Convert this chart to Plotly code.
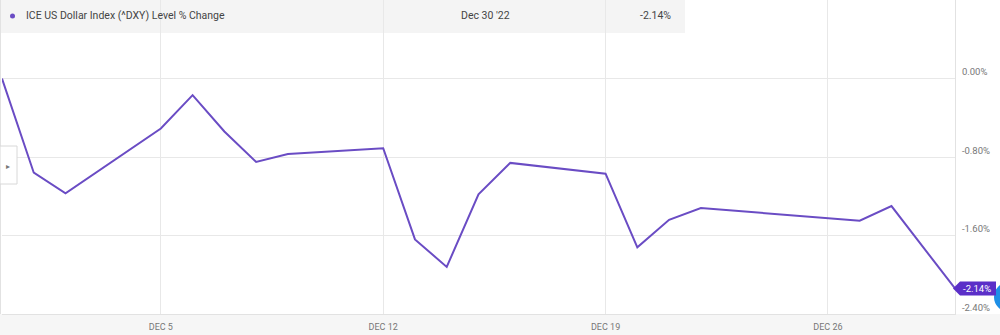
import plotly.graph_objects as go

# ---- data ----
dates = ["2022-11-30", "2022-12-01", "2022-12-02", "2022-12-05", "2022-12-06",
         "2022-12-07", "2022-12-08", "2022-12-09", "2022-12-12", "2022-12-13",
         "2022-12-14", "2022-12-15", "2022-12-16", "2022-12-19", "2022-12-20",
         "2022-12-21", "2022-12-22", "2022-12-27", "2022-12-28", "2022-12-30"]
values = [0.00, -0.96, -1.17, -0.51, -0.17,
          -0.54, -0.85, -0.77, -0.71, -1.64,
          -1.92, -1.18, -0.86, -0.97, -1.72,
          -1.44, -1.32, -1.45, -1.30, -2.14]
series_name = "ICE US Dollar Index (^DXY) Level % Change"
header_date = "Dec 30 '22"
x_range = ["2022-11-30", "2022-12-30"]
y_range = [-2.4, 0.8]
x_tick_vals = ["2022-12-05", "2022-12-12", "2022-12-19", "2022-12-26"]
x_tick_text = ["DEC 5", "DEC 12", "DEC 19", "DEC 26"]
y_tick_vals = [0.0, -0.8, -1.6, -2.4]
y_tick_text = ["0.00%", "-0.80%", "-1.60%", "-2.40%"]

# ---- layout geometry (pixels) ----
W, H = 1000, 335
ML, MR, MT, MB = 2, 45, 0, 21
PW, PH = W - ML - MR, H - MT - MB


def px(xp):
    return (xp - ML) / PW


def py(yp):
    return (H - MB - yp) / PH


LINE = "#6a4cc4"
PILL = "#5b2fc8"
FONT = "Roboto"

fig = go.Figure()
fig.add_trace(go.Scatter(
    x=dates, y=values, mode="lines",
    line=dict(color=LINE, width=2),
    hoverinfo="skip", showlegend=False,
))

last_val = values[-1]
last_txt = f"{last_val:.2f}%"
# position of the last value in paper coordinates (last date is the range end)
last_py = (last_val - y_range[0]) / (y_range[1] - y_range[0])

shapes = [
    # header box
    dict(type="rect", xref="paper", yref="paper", layer="below",
         x0=px(0), x1=px(685), y0=py(33), y1=py(0),
         fillcolor="#f4f4f4", line=dict(width=0)),
    # bottom strip
    dict(type="rect", xref="paper", yref="paper", layer="below",
         x0=px(0), x1=px(1000), y0=py(335), y1=py(314),
         fillcolor="#f6f6f6", line=dict(width=0)),
    # left border
    dict(type="line", xref="paper", yref="paper",
         x0=px(0.5), x1=px(0.5), y0=0, y1=1,
         line=dict(color="#e2e2e2", width=1)),
    # legend dot
    dict(type="circle", xref="paper", yref="paper",
         x0=px(10), x1=px(15), y0=py(18.5), y1=py(13.5),
         fillcolor=LINE, line=dict(width=0)),
    # side toggle button
    dict(type="rect", xref="paper", yref="paper",
         x0=px(0), x1=px(17), y0=py(184), y1=py(146),
         fillcolor="white", line=dict(color="#d8d8d8", width=1)),
    # blue widget at right edge
    dict(type="circle", xref="paper", yref="paper",
         x0=px(994), x1=px(1024), y0=py(312), y1=py(282),
         fillcolor="#1e8fe6", line=dict(width=0)),
    # end-value pill
    dict(type="path", xref="paper", yref="paper",
         xsizemode="pixel", ysizemode="pixel",
         xanchor=1.0, yanchor=last_py,
         path="M -2,0 L 5,7 L 41,7 L 41,-7 L 5,-7 Z",
         fillcolor=PILL, line=dict(width=0)),
]

annotations = [
    dict(xref="paper", yref="paper", x=px(24), y=py(16), xanchor="left",
         yanchor="middle", text=series_name, showarrow=False,
         font=dict(family=FONT, size=10.5, color="#444")),
    dict(xref="paper", yref="paper", x=px(485), y=py(16), xanchor="center",
         yanchor="middle", text=header_date, showarrow=False,
         font=dict(family=FONT, size=10.5, color="#444")),
    dict(xref="paper", yref="paper", x=px(673), y=py(16), xanchor="right",
         yanchor="middle", text=last_txt, showarrow=False,
         font=dict(family=FONT, size=10.5, color="#444")),
    dict(xref="paper", yref="paper", x=px(8), y=py(166), xanchor="center",
         yanchor="middle", text="▸", showarrow=False,
         font=dict(family="DejaVu Sans", size=8, color="#777")),
    dict(xref="paper", yref="paper", x=1.0, y=last_py, xanchor="center",
         yanchor="middle", xshift=22, text=last_txt, showarrow=False,
         font=dict(family=FONT, size=9.5, color="white")),
]

fig.update_layout(
    width=W, height=H,
    margin=dict(l=ML, r=MR, t=MT, b=MB, pad=0),
    paper_bgcolor="white",
    plot_bgcolor="rgba(0,0,0,0)",
    font=dict(family=FONT, size=9, color="#777"),
    shapes=shapes,
    annotations=annotations,
    xaxis=dict(
        type="date", range=x_range,
        tickmode="array", tickvals=x_tick_vals, ticktext=x_tick_text,
        showgrid=True, gridcolor="#e8e8e8", gridwidth=1,
        showline=True, linecolor="#e2e2e2", linewidth=1,
        zeroline=False, ticks="", ticklabelstandoff=4,
        tickfont=dict(family=FONT, size=9, color="#777"),
        fixedrange=True,
    ),
    yaxis=dict(
        side="right", range=y_range,
        tickmode="array", tickvals=y_tick_vals, ticktext=y_tick_text,
        showgrid=True, gridcolor="#e8e8e8", gridwidth=1,
        showline=True, linecolor="#e2e2e2", linewidth=1,
        zeroline=False, ticks="", ticklabelposition="outside top",
        ticklabelstandoff=4,
        tickfont=dict(family=FONT, size=9.5, color="#777"),
        fixedrange=True,
    ),
)

fig.write_html("out.html", config={"displayModeBar": False})
